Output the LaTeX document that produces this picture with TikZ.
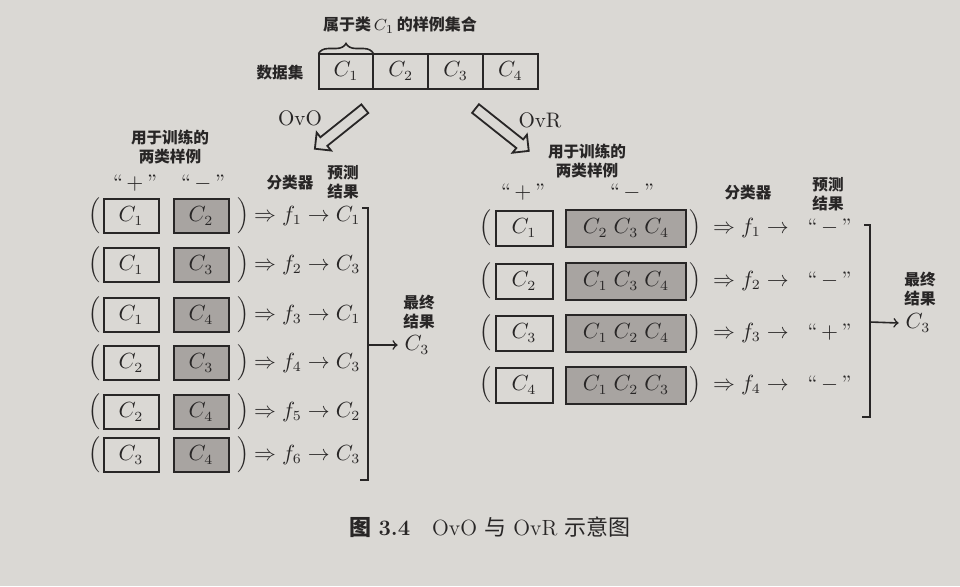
\documentclass[tikz,border=0pt]{standalone}
\usepackage{fontspec}
\newfontfamily\cjk{Noto Sans CJK SC}
\usetikzlibrary{positioning,shapes.arrows,decorations.pathreplacing}
\definecolor{paper}{RGB}{218,216,212}
\definecolor{ink}{RGB}{40,38,38}
\definecolor{boxgray}{RGB}{168,164,161}
\tikzset{
  cell/.style={draw=ink,line width=1pt,minimum width=27.4pt,minimum height=17.5pt,inner sep=0pt,outer sep=0pt},
  posbox/.style={draw=ink,line width=1pt,minimum width=27.5pt,minimum height=17pt,inner sep=0pt},
  negbox/.style={posbox,fill=boxgray},
  posboxr/.style={posbox,minimum width=28.5pt,minimum height=17.5pt},
  negboxr/.style={posbox,fill=boxgray,minimum width=60pt,minimum height=18.5pt},
  zh/.style={font=\cjk\bfseries\fontsize{7.8}{9.5}\selectfont,align=center,inner sep=0pt},
  fatarrow/.style={single arrow,draw=ink,line width=0.9pt,single arrow head extend=3pt,inner sep=2.3pt},
}
\begin{document}
\begin{tikzpicture}[x=0.5pt,y=-0.5pt,color=ink,font=\fontsize{10.5}{13}\selectfont]
\fill[paper] (0,0) rectangle (960,586);
\useasboundingbox (0,0) rectangle (960,586);

% data set
\node[zh] (dlabel) at (280,73) {数据集};
\node[cell] (d1) at (346,71) {$C_1$};
\node[cell,right=0pt of d1] (d2) {$C_2$};
\node[cell,right=0pt of d2] (d3) {$C_3$};
\node[cell,right=0pt of d3] (d4) {$C_4$};
\draw[line width=0.8pt,decorate,decoration={brace,amplitude=5pt}] (d1.north west) -- (d1.north east);
\node[zh,font=\cjk\bfseries\fontsize{8}{9.5}\selectfont] (c1note) at (400,25) {属于类\,$C_1$\,的样例集合};

% the two ways
\node[fatarrow,minimum height=32pt,rotate=218.7] (ovoarrow) at (342,127) {};
\node[fatarrow,minimum height=34pt,rotate=321.5] (ovrarrow) at (500,128) {};
\node (ovolabel) at (300,118) {OvO};
\node (ovrlabel) at (540,120) {OvR};

% OvO heads
\node[zh] (ovohead) at (170,147) {用于训练的\\两类样例};
\node (ovoplus) at (135,183) {``\,$+$\,''};
\node (ovominus) at (203,183) {``\,$-$\,''};
\node[zh] (ovoclf) at (290,183) {分类器};
\node[zh] (ovopred) at (343,182) {预测\\结果};

% OvO rows
\node (lp1) at (94,216) {$\Big($};
\node[posbox] (a1) at (131,216) {$C_1$};
\node[negbox] (b1) at (201,216) {$C_2$};
\node (rp1) at (243,216) {$\Big)$};
\node[anchor=west] (f1) at (247,216) {$\Rightarrow f_1 \to C_1$};

\node (lp2) at (94,265) {$\Big($};
\node[posbox] (a2) at (131,265) {$C_1$};
\node[negbox] (b2) at (201,265) {$C_3$};
\node (rp2) at (243,265) {$\Big)$};
\node[anchor=west] (f2) at (247,265) {$\Rightarrow f_2 \to C_3$};

\node (lp3) at (94,315) {$\Big($};
\node[posbox] (a3) at (131,315) {$C_1$};
\node[negbox] (b3) at (201,315) {$C_4$};
\node (rp3) at (243,315) {$\Big)$};
\node[anchor=west] (f3) at (247,315) {$\Rightarrow f_3 \to C_1$};

\node (lp4) at (94,363) {$\Big($};
\node[posbox] (a4) at (131,363) {$C_2$};
\node[negbox] (b4) at (201,363) {$C_3$};
\node (rp4) at (243,363) {$\Big)$};
\node[anchor=west] (f4) at (247,363) {$\Rightarrow f_4 \to C_3$};

\node (lp5) at (94,412) {$\Big($};
\node[posbox] (a5) at (131,412) {$C_2$};
\node[negbox] (b5) at (201,412) {$C_4$};
\node (rp5) at (243,412) {$\Big)$};
\node[anchor=west] (f5) at (247,412) {$\Rightarrow f_5 \to C_2$};

\node (lp6) at (94,455) {$\Big($};
\node[posbox] (a6) at (131,455) {$C_3$};
\node[negbox] (b6) at (201,455) {$C_4$};
\node (rp6) at (243,455) {$\Big)$};
\node[anchor=west] (f6) at (247,455) {$\Rightarrow f_6 \to C_3$};

% OvO vote
\coordinate (ovotop) at (368,208);
\coordinate (ovobot) at (368,480);
\coordinate (ovomid) at (368,345);
\draw[line width=0.8pt] ([xshift=-3pt]ovotop) -- (ovotop) -- (ovobot) -- ([xshift=-4pt]ovobot);
\node[zh] (ovofinlabel) at (419,312) {最终\\结果};
\node (ovofinal) at (417,345) {$C_3$};
\draw[line width=0.8pt,->] (ovomid) -- (ovofinal.west);

% OvR heads
\node[zh] (ovrhead) at (587,161) {用于训练的\\两类样例};
\node (ovrplus) at (523,192) {``\,$+$\,''};
\node (ovrminus) at (632,192) {``\,$-$\,''};
\node[zh] (ovrclf) at (748,193) {分类器};
\node[zh] (ovrpred) at (828,194) {预测\\结果};

% OvR rows
\node (lq1) at (485,228) {$\Big($};
\node[posboxr] (p1) at (524,228) {$C_1$};
\node[negboxr] (n1) at (626,228) {$C_2\;C_3\;C_4$};
\node (rq1) at (695,228) {$\Big)$};
\node[anchor=west] (g1) at (706,228) {$\Rightarrow f_1 \to{}$\; ``\,$-$\,''};

\node (lq2) at (485,281) {$\Big($};
\node[posboxr] (p2) at (524,281) {$C_2$};
\node[negboxr] (n2) at (626,281) {$C_1\;C_3\;C_4$};
\node (rq2) at (695,281) {$\Big)$};
\node[anchor=west] (g2) at (706,281) {$\Rightarrow f_2 \to{}$\; ``\,$-$\,''};

\node (lq3) at (485,333) {$\Big($};
\node[posboxr] (p3) at (524,333) {$C_3$};
\node[negboxr] (n3) at (626,333) {$C_1\;C_2\;C_4$};
\node (rq3) at (695,333) {$\Big)$};
\node[anchor=west] (g3) at (706,333) {$\Rightarrow f_3 \to{}$\; ``\,$+$\,''};

\node (lq4) at (485,385) {$\Big($};
\node[posboxr] (p4) at (524,385) {$C_4$};
\node[negboxr] (n4) at (626,385) {$C_1\;C_2\;C_3$};
\node (rq4) at (695,385) {$\Big)$};
\node[anchor=west] (g4) at (706,385) {$\Rightarrow f_4 \to{}$\; ``\,$-$\,''};

% OvR vote
\coordinate (ovrtop) at (870,225);
\coordinate (ovrbot) at (870,417);
\coordinate (ovrmid) at (870,322);
\draw[line width=0.8pt] ([xshift=-3pt]ovrtop) -- (ovrtop) -- (ovrbot) -- ([xshift=-4pt]ovrbot);
\node[zh] (ovrfinlabel) at (920,289) {最终\\结果};
\node (ovrfinal) at (918,323) {$C_3$};
\draw[line width=0.8pt,->] (ovrmid) -- (ovrfinal.west);

% caption
\node[font=\fontsize{11}{13}\selectfont] (caption) at (490,527) {{\cjk\bfseries 图} \textbf{3.4}\quad OvO {\cjk 与} OvR {\cjk 示意图}};
\end{tikzpicture}
\end{document}
